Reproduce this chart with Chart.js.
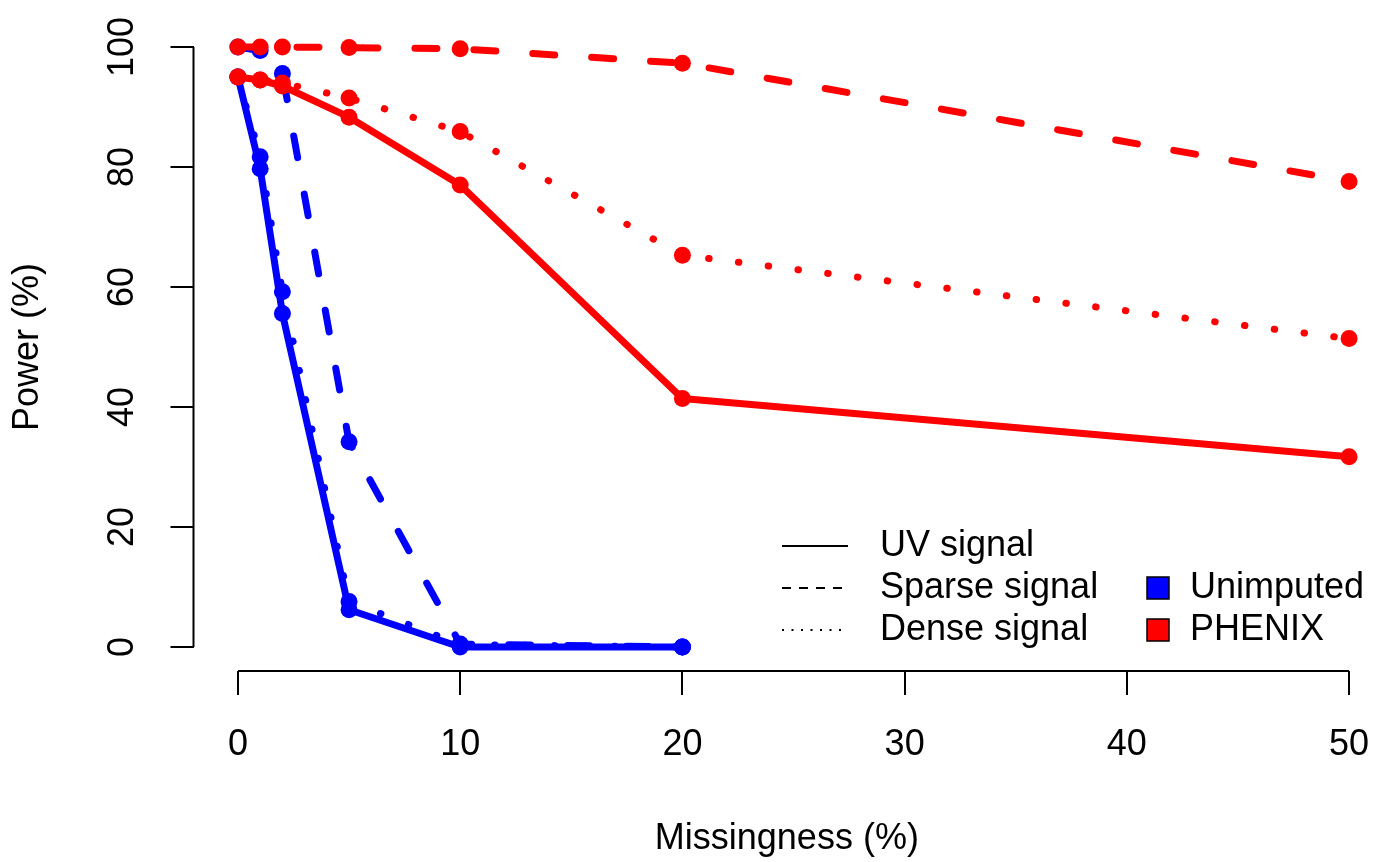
<!DOCTYPE html>
<html>
<head>
<meta charset="utf-8">
<title>Power vs missingness</title>
<script src="https://cdn.jsdelivr.net/npm/chart.js@4.4.1/dist/chart.umd.min.js"></script>
<style>
  html, body { margin: 0; padding: 0; background: #fff; }
  #wrap { width: 1382px; height: 862px; }
</style>
</head>
<body>
<div id="wrap"><canvas id="grafico" width="1382" height="862"></canvas></div>
<script>
// ---- data: power (%) at each missingness level (%) ----
const missPhenix = [0, 1, 2, 5, 10, 20, 50];
const missUnimp = [0, 1, 2, 5, 10, 20];

const phenixUV = [95, 94.5, 93.5, 88.3, 77, 41.4, 31.7];
const phenixSparse = [100, 100, 100, 99.9, 99.7, 97.3, 77.6];
const phenixDense = [95, 94.5, 94, 91.5, 85.9, 65.3, 51.4];

const unimpUV = [95, 79.7, 55.6, 6.2, 0, 0];
const unimpSparse = [100, 99.4, 95.6, 34.2, 0.5, 0];
const unimpDense = [95, 81.7, 59.2, 7.6, 0.4, 0];

const xTicks = [0, 10, 20, 30, 40, 50];
const yTicks = [0, 20, 40, 60, 80, 100];

const signalLabels = ['UV signal', 'Sparse signal', 'Dense signal'];
const methodLabels = ['Unimputed', 'PHENIX'];

// ---- styles ----
const RED = '#ff0000';
const BLUE = '#0000ff';
const FONT = '"Liberation Sans", Arial, Helvetica, sans-serif';
const SOLID = [];
const DASHED = [22, 37];
const DOTTED = [0.5, 29.5];

function serie(label, xs, ys, color, dash) {
    return {
        label: label,
        data: xs.map((x, i) => ({ x: x, y: ys[i] })),
        borderColor: color,
        backgroundColor: color,
        borderWidth: 7,
        borderDash: dash,
        borderCapStyle: 'round',
        borderJoinStyle: 'round',
        pointRadius: 8.5,
        pointBorderWidth: 0,
        pointBackgroundColor: color,
        tension: 0,
        fill: false
    };
}

// first dataset is painted last, so PHENIX sits on top
const datasets = [
    serie('PHENIX UV', missPhenix, phenixUV, RED, SOLID),
    serie('PHENIX Sparse', missPhenix, phenixSparse, RED, DASHED),
    serie('PHENIX Dense', missPhenix, phenixDense, RED, DOTTED),
    serie('Unimputed UV', missUnimp, unimpUV, BLUE, SOLID),
    serie('Unimputed Sparse', missUnimp, unimpSparse, BLUE, DASHED),
    serie('Unimputed Dense', missUnimp, unimpDense, BLUE, DOTTED)
];

// axis lines only span first..last tick, y labels are rotated, legend is two columns
const extras = {
    id: 'extras',
    afterDraw(chart) {
        const ctx = chart.ctx;
        const x = chart.scales.x;
        const y = chart.scales.y;
        ctx.save();

        ctx.strokeStyle = '#000';
        ctx.lineWidth = 2;
        ctx.setLineDash([]);
        ctx.beginPath();
        ctx.moveTo(x.getPixelForValue(xTicks[0]), x.top);
        ctx.lineTo(x.getPixelForValue(xTicks[xTicks.length - 1]), x.top);
        ctx.moveTo(y.right, y.getPixelForValue(yTicks[0]));
        ctx.lineTo(y.right, y.getPixelForValue(yTicks[yTicks.length - 1]));
        ctx.stroke();

        ctx.fillStyle = '#000';
        ctx.font = '36px ' + FONT;
        ctx.textAlign = 'center';
        ctx.textBaseline = 'middle';
        yTicks.forEach(v => {
            ctx.save();
            ctx.translate(123, y.getPixelForValue(v));
            ctx.rotate(-Math.PI / 2);
            ctx.fillText(String(v), 0, 0);
            ctx.restore();
        });

        // legend
        const lx = 782, lw = 66, tx = 880, y0 = 546, step = 42;
        const dashes = [[], [9, 8], [2, 7.5]];
        ctx.textAlign = 'left';
        signalLabels.forEach((txt, i) => {
            const ly = y0 + i * step;
            ctx.lineWidth = 2;
            ctx.lineCap = 'butt';
            ctx.setLineDash(dashes[i]);
            ctx.beginPath();
            ctx.moveTo(lx, ly);
            ctx.lineTo(lx + lw, ly);
            ctx.stroke();
            ctx.fillText(txt, tx, ly);
        });
        ctx.setLineDash([]);
        const boxColors = [BLUE, RED];
        methodLabels.forEach((txt, i) => {
            const ly = y0 + (i + 1) * step;
            ctx.fillStyle = boxColors[i];
            ctx.fillRect(1147, ly - 11, 22, 22);
            ctx.lineWidth = 1.5;
            ctx.strokeRect(1147, ly - 11, 22, 22);
            ctx.fillStyle = '#000';
            ctx.fillText(txt, 1190, ly);
        });

        ctx.restore();
    }
};

new Chart(document.getElementById('grafico'), {
    type: 'line',
    data: { datasets: datasets },
    options: {
        responsive: false,
        animation: false,
        events: [],
        layout: { autoPadding: false, padding: { top: 23, right: 1.8, bottom: 0, left: 0 } },
        plugins: {
            legend: { display: false },
            tooltip: { enabled: false }
        },
        scales: {
            x: {
                type: 'linear',
                min: -2,
                max: 51.4,
                afterBuildTicks: s => { s.ticks = xTicks.map(v => ({ value: v })); },
                afterFit: s => { s.height = 191; s.paddingLeft = 0; s.paddingRight = 0; },
                border: { display: false },
                grid: { drawOnChartArea: false, drawTicks: true, tickLength: 24, color: '#000', lineWidth: 2 },
                ticks: { color: '#000', font: { family: FONT, size: 36 }, padding: 28, maxRotation: 0, autoSkip: false },
                title: { display: true, text: 'Missingness (%)', color: '#000', font: { family: FONT, size: 36 }, padding: { top: 0, bottom: 1 } }
            },
            y: {
                type: 'linear',
                min: -4,
                max: 104,
                afterBuildTicks: s => { s.ticks = yTicks.map(v => ({ value: v })); },
                afterFit: s => { s.width = 193.5; s.paddingTop = 0; s.paddingBottom = 0; },
                border: { display: false },
                grid: { drawOnChartArea: false, drawTicks: true, tickLength: 23, color: '#000', lineWidth: 2 },
                ticks: { display: false },
                title: { display: true, text: 'Power (%)', color: '#000', font: { family: FONT, size: 36 }, padding: { top: 6, bottom: 0 } }
            }
        }
    },
    plugins: [extras]
});
</script>
</body>
</html>
